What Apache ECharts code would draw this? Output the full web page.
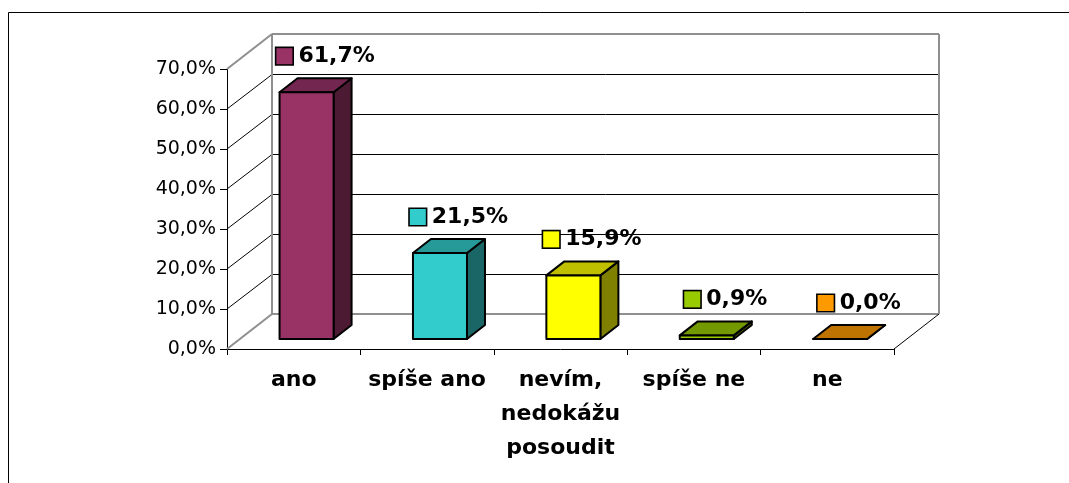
<!DOCTYPE html>
<html>
<head>
<meta charset="utf-8">
<script src="https://cdn.jsdelivr.net/npm/echarts@6/dist/echarts.min.js"></script>
<style>
html,body{margin:0;padding:0;background:#fff;}
#chart{width:1069px;height:483px;}
</style>
</head>
<body>
<div id="chart"></div>
<script>
// ---- data ----
const categories = ['ano', 'spíše ano', 'nevím,\nnedokážu\nposoudit', 'spíše ne', 'ne'];
const values = [61.7, 21.5, 15.9, 0.9, 0.0];
const yTicks = [0, 10, 20, 30, 40, 50, 60, 70];

// ---- styles ----
const frontColors = ['#993366', '#33CCCC', '#FFFF00', '#99CC00', '#FF9900'];
const topColors   = ['#732650', '#269999', '#BFBF00', '#739900', '#BF7300'];
const sideColors  = ['#4D1A33', '#1A6666', '#808000', '#4D6600', '#804D00'];
const DX = 45, DY = -35;          // wall depth
const T0 = 0.286, T1 = 0.686;     // bar depth position
const WALL = '#8f8f8f';

function fmt(v) { return v.toFixed(1).replace('.', ',') + '%'; }
function crisp(p) { return Math.round(p) + 0.5; }

const chart = echarts.init(document.getElementById('chart'));

function renderWall(params, api) {
  const cs = params.coordSys;
  const v = api.value(1);
  const y = api.coord([0, v])[1];
  const y0 = api.coord([0, 0])[1];
  const x0 = cs.x, x1 = cs.x + cs.width;
  const edge = (v === 0 || v === yTicks[yTicks.length - 1]);
  const children = [];
  const by = edge ? Math.round(y + DY) : crisp(y + DY);
  children.push({type: 'line', shape: {x1: x0, y1: y, x2: x0 + DX, y2: by},
    style: {stroke: edge ? WALL : '#000', lineWidth: edge ? 2 : 1}});
  children.push({type: 'line', shape: {x1: x0 + DX, y1: by, x2: x1 + DX, y2: by},
    style: {stroke: edge ? WALL : '#000', lineWidth: edge ? 2 : 1}});
  if (v === 0) {
    children.push({type: 'line', shape: {x1: x1, y1: y, x2: x1 + DX, y2: y + DY},
      style: {stroke: '#000', lineWidth: 1}});
  }
  if (v === yTicks[yTicks.length - 1]) {
    children.push({type: 'line', shape: {x1: x0 + DX, y1: y + DY, x2: x0 + DX, y2: y0 + DY},
      style: {stroke: WALL, lineWidth: 2}});
    children.push({type: 'line', shape: {x1: x1 + DX, y1: y + DY, x2: x1 + DX, y2: y0 + DY},
      style: {stroke: WALL, lineWidth: 2}});
  }
  return {type: 'group', children: children};
}

function renderBar(params, api) {
  const i = api.value(0);
  const v = api.value(1);
  const top = api.coord([i, v]);
  const base = api.coord([i, 0]);
  const band = api.size([1, 0])[0];
  const bw = band * 0.405;
  const cx = top[0] + DX * T0;
  const xl = cx - bw / 2, xr = cx + bw / 2;
  const yt = top[1] + DY * T0, yb = base[1] + DY * T0;
  const ddx = DX * (T1 - T0), ddy = DY * (T1 - T0);
  const idx = params.dataIndex;
  const lw = 2;
  const st = (fill) => ({fill: fill, stroke: '#000', lineWidth: lw, lineJoin: 'round'});
  const children = [
    {type: 'polygon', shape: {points: [[xr, yt], [xr + ddx, yt + ddy], [xr + ddx, yb + ddy], [xr, yb]]}, style: st(sideColors[idx])},
    {type: 'polygon', shape: {points: [[xl, yt], [xr, yt], [xr + ddx, yt + ddy], [xl + ddx, yt + ddy]]}, style: st(topColors[idx])},
    {type: 'polygon', shape: {points: [[xl, yt], [xr, yt], [xr, yb], [xl, yb]]}, style: st(frontColors[idx])},
    {type: 'text', z2: 10, style: {
      x: cx + 19, y: yt - 36, align: 'center', verticalAlign: 'middle',
      text: '{sq|}{t|' + fmt(v) + '}',
      rich: {
        sq: {width: 16, height: 16, backgroundColor: frontColors[idx], borderColor: '#000', borderWidth: 1.6},
        t: {fontFamily: 'DejaVu Sans', fontWeight: 'bold', fontSize: 22, color: '#000', padding: [0, 0, 0, 6]}
      }
    }}
  ];
  return {type: 'group', children: children};
}

chart.setOption({
  animation: false,
  backgroundColor: '#fff',
  graphic: [{
    type: 'rect', z: 100, silent: true,
    shape: {x: 8.5, y: 12.5, width: 1070, height: 480},
    style: {fill: 'none', stroke: '#000', lineWidth: 1}
  }],
  grid: {left: 227, top: 69, right: 175, bottom: 134, containLabel: false},
  xAxis: {
    type: 'category', data: categories, boundaryGap: true,
    axisLine: {show: true, lineStyle: {color: '#000', width: 1}},
    axisTick: {show: true, length: 6, lineStyle: {color: '#000'}},
    axisLabel: {margin: 14, fontFamily: 'DejaVu Sans', fontWeight: 'bold', fontSize: 22, lineHeight: 34, color: '#000', interval: 0},
    splitLine: {show: false}
  },
  yAxis: {
    type: 'value', min: 0, max: 70, interval: 10,
    axisLine: {show: true, lineStyle: {color: '#000', width: 1}},
    axisTick: {show: true, length: 7, lineStyle: {color: '#000'}},
    axisLabel: {margin: 11, fontFamily: 'DejaVu Sans', fontSize: 19, color: '#000', formatter: fmt},
    splitLine: {show: false}
  },
  series: [
    {type: 'custom', z: 1, silent: true, renderItem: renderWall,
     data: yTicks.map(v => [0, v]), encode: {x: 0, y: 1}, clip: false},
    {type: 'custom', z: 3, silent: true, renderItem: renderBar,
     data: values.map((v, i) => [i, v]), encode: {x: 0, y: 1}, clip: false}
  ]
});
</script>
</body>
</html>
